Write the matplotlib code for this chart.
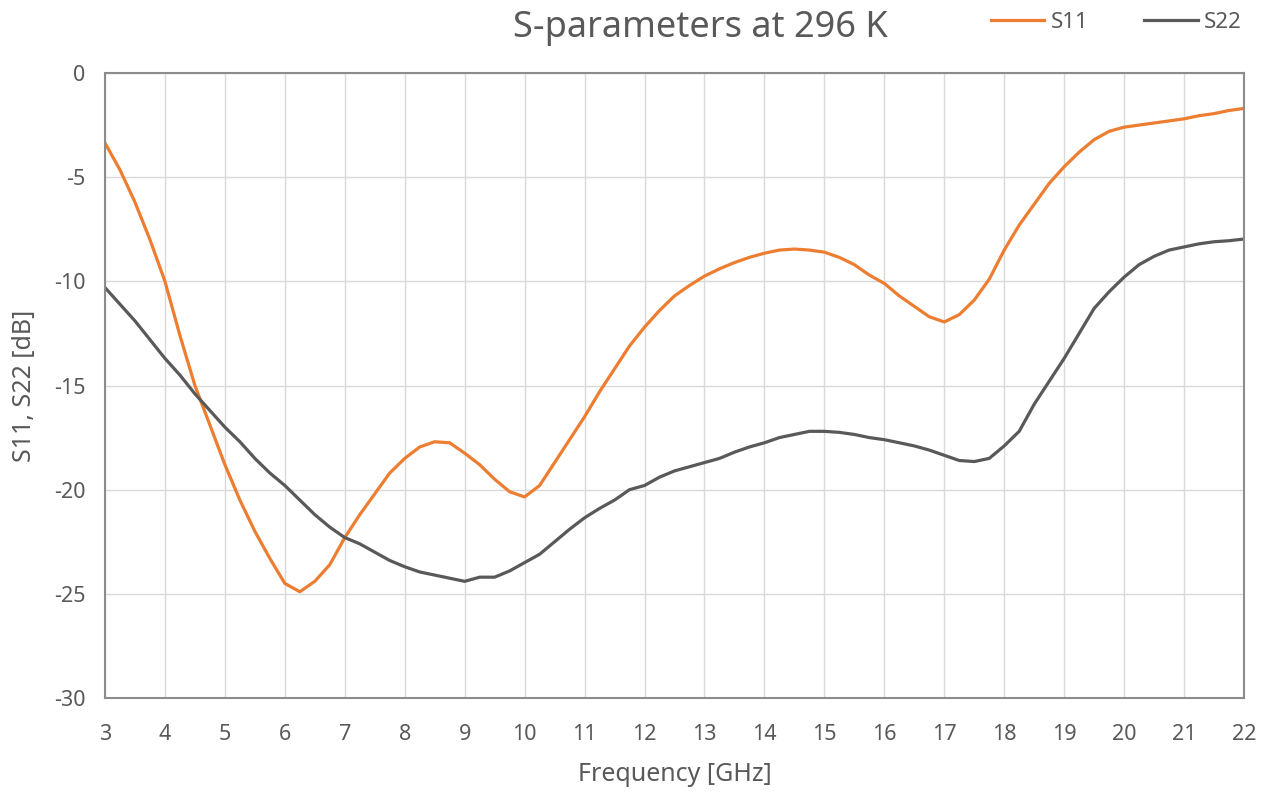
import matplotlib
matplotlib.use("Agg")
import matplotlib.pyplot as plt
import numpy as np

freq = [3.0, 3.25, 3.5, 3.75, 4.0, 4.25, 4.5, 4.75, 5.0, 5.25, 5.5, 5.75, 6.0, 6.25, 6.5, 6.75,
        7.0, 7.25, 7.5, 7.75, 8.0, 8.25, 8.5, 8.75, 9.0, 9.25, 9.5, 9.75, 10.0, 10.25, 10.5, 10.75,
        11.0, 11.25, 11.5, 11.75, 12.0, 12.25, 12.5, 12.75, 13.0, 13.25, 13.5, 13.75, 14.0, 14.25,
        14.5, 14.75, 15.0, 15.25, 15.5, 15.75, 16.0, 16.25, 16.5, 16.75, 17.0, 17.25, 17.5, 17.75,
        18.0, 18.25, 18.5, 18.75, 19.0, 19.25, 19.5, 19.75, 20.0, 20.25, 20.5, 20.75, 21.0, 21.25,
        21.5, 21.75, 22.0]

s11 = [-3.36, -4.65, -6.2, -8.0, -10.0, -12.6, -15.0, -16.9, -18.8, -20.5, -22.0, -23.3, -24.5, -24.9,
       -24.4, -23.6, -22.3, -21.2, -20.2, -19.2, -18.5, -17.95, -17.7, -17.75, -18.25, -18.8, -19.5,
       -20.1, -20.35, -19.8, -18.7, -17.6, -16.5, -15.3, -14.2, -13.1, -12.2, -11.4, -10.7, -10.2,
       -9.75, -9.4, -9.1, -8.85, -8.65, -8.5, -8.45, -8.5, -8.6, -8.85, -9.2, -9.7, -10.1, -10.7,
       -11.2, -11.7, -11.95, -11.6, -10.9, -9.9, -8.5, -7.3, -6.3, -5.3, -4.5, -3.8, -3.2, -2.8,
       -2.6, -2.5, -2.4, -2.3, -2.2, -2.05, -1.95, -1.8, -1.7]

s22 = [-10.3, -11.1, -11.9, -12.8, -13.7, -14.5, -15.4, -16.2, -17.0, -17.7, -18.5, -19.2, -19.8,
       -20.5, -21.2, -21.8, -22.3, -22.6, -23.0, -23.4, -23.7, -23.95, -24.1, -24.25, -24.4, -24.2,
       -24.2, -23.9, -23.5, -23.1, -22.5, -21.9, -21.35, -20.9, -20.5, -20.0, -19.8, -19.4, -19.1,
       -18.9, -18.7, -18.5, -18.2, -17.95, -17.75, -17.5, -17.35, -17.2, -17.2, -17.25, -17.35,
       -17.5, -17.6, -17.75, -17.9, -18.1, -18.35, -18.6, -18.65, -18.5, -17.9, -17.2, -15.9,
       -14.8, -13.7, -12.5, -11.3, -10.5, -9.8, -9.2, -8.8, -8.5, -8.35, -8.2, -8.1, -8.05, -7.97]

x_ticks = list(range(3, 23))
y_ticks = [0, -5, -10, -15, -20, -25, -30]

title = "S-parameters at 296 K"
xlabel = "Frequency [GHz]"
ylabel = "S11, S22 [dB]"

plt.rcParams['font.family'] = ['Noto Sans', 'DejaVu Sans']
plt.rcParams['axes.unicode_minus'] = False

txt = '#595959'
fig = plt.figure(figsize=(12.67, 7.98), dpi=100)
ax = fig.add_axes([105/1267, 1-698/798, (1244-105)/1267, (698-73)/798])

l1, = ax.plot(freq, s11, color='#ED7D31', lw=2.3, label='S11', solid_joinstyle='round')
l2, = ax.plot(freq, s22, color='#595959', lw=2.3, label='S22', solid_joinstyle='round')

ax.set_xlim(3, 22)
ax.set_ylim(-30, 0)
ax.set_xticks(x_ticks)
ax.set_yticks(y_ticks)
ax.grid(True, color='#D9D9D9', lw=1.0)
ax.set_axisbelow(True)
for s in ax.spines.values():
    s.set_color('#8C8C8C')
    s.set_linewidth(1.5)
ax.tick_params(axis='both', length=0, labelsize=15.5, labelcolor=txt)
ax.tick_params(axis='x', pad=19)
ax.tick_params(axis='y', pad=14)

ax.set_xlabel(xlabel, fontsize=18, color=txt, labelpad=12)
ax.set_ylabel(ylabel, fontsize=18, color=txt, labelpad=12)

fig.text(700/1267, 1-28/798, title, fontsize=26, color=txt, ha='center', va='center')

fig.legend(handles=[l1, l2], loc='center right', bbox_to_anchor=(1262/1267, 1-22/798), ncol=2,
           frameon=False, fontsize=16, labelcolor=txt, handlelength=2.4, handletextpad=0.3,
           columnspacing=2.5)

fig.savefig('out.png', dpi=100)
